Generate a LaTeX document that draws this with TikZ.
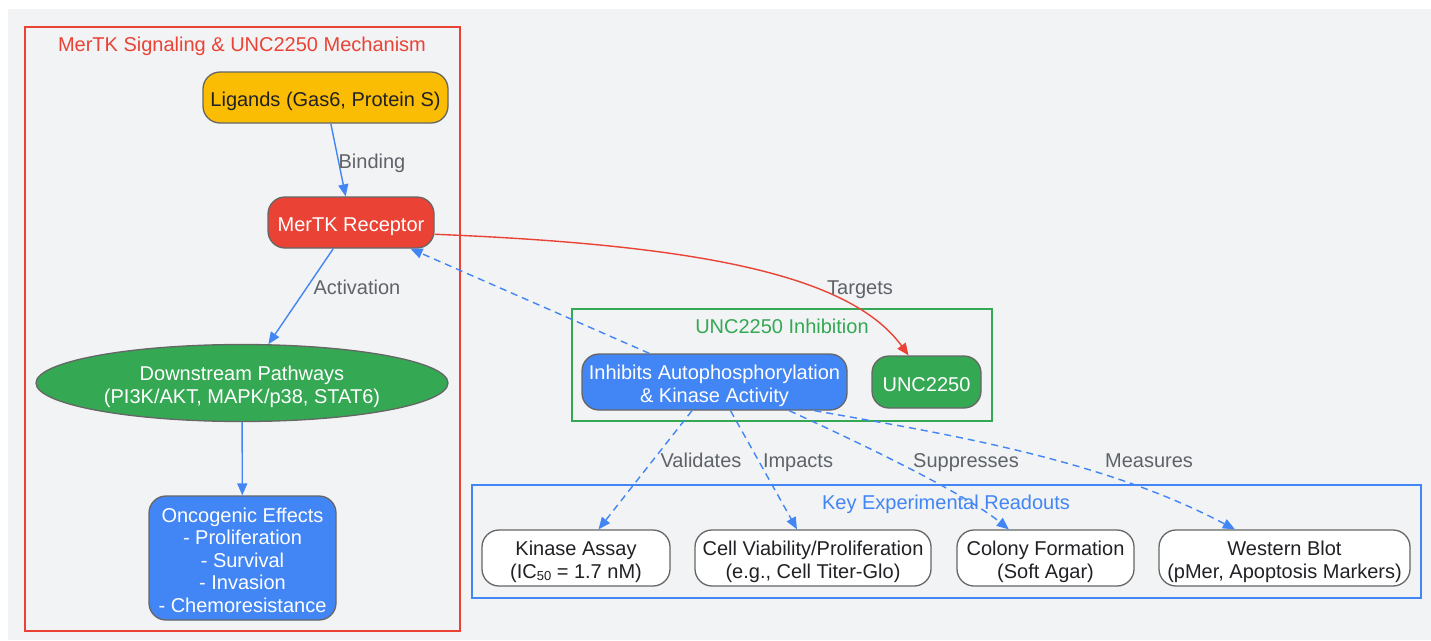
\documentclass[tikz,border=0pt]{standalone}
\usepackage{fontspec}
\setmainfont{Liberation Sans}
\usetikzlibrary{shapes.geometric,arrows.meta}
\definecolor{bgc}{HTML}{F1F3F5}
\definecolor{gblue}{HTML}{4285F4}
\definecolor{gred}{HTML}{EA4335}
\definecolor{ggreen}{HTML}{34A853}
\definecolor{gyellow}{HTML}{FBBC04}
\definecolor{bordergrey}{HTML}{666666}
\definecolor{lblgrey}{HTML}{5F6368}
\definecolor{textdark}{HTML}{202124}
\newcommand\tsup{\rule{0pt}{23pt}}
\newcommand\bsdn{\rule[-5pt]{0pt}{5pt}}
\tikzset{
  basefont/.style={font=\fontsize{20}{22.5}\selectfont},
  box/.style={basefont, draw=bordergrey, line width=1.3pt, rounded corners=17pt, align=center, inner sep=0pt},
  whitebox/.style={box, fill=white, text=textdark, minimum height=56pt},
  lbl/.style={basefont, text=lblgrey, inner sep=0pt, anchor=base},
  ctitle/.style={basefont, inner sep=0pt, anchor=base},
  cluster/.style={line width=1.3pt},
  conn/.style={line width=1.4pt, gblue, -{Triangle[length=12pt,width=10pt]}},
  dconn/.style={conn, dash pattern=on 7pt off 5pt},
}
\begin{document}
\begin{tikzpicture}[x=1pt,y=-1pt]
\useasboundingbox (0,0) rectangle (1431,640);
\fill[bgc] (8,9) rectangle (1431,640);

% clusters
\draw[cluster, gred] (25,27) rectangle (460,631);
\node[ctitle, text=gred] (t1) at (242,51.5) {MerTK Signaling \& UNC2250 Mechanism};
\draw[cluster, ggreen] (572,309) rectangle (992,421);
\node[ctitle, text=ggreen] (t2) at (782,333.5) {UNC2250 Inhibition};
\draw[cluster, gblue] (472,485) rectangle (1421,598);
\node[ctitle, text=gblue] (t3) at (946,509.5) {Key Experimental Readouts};

% nodes
\node[box, fill=gyellow, text=textdark, minimum width=245pt, minimum height=51pt] (lig) at (325.5,97.5) {\tsup Ligands (Gas6, Protein S)\bsdn};
\node[box, fill=gred, text=white, minimum width=166pt, minimum height=51pt] (mer) at (351,222.5) {\tsup MerTK Receptor\bsdn};
\node[basefont, ellipse, draw=bordergrey, line width=1.3pt, fill=ggreen, text=white, align=center, inner sep=0pt, minimum width=412pt, minimum height=77pt] (down) at (242,383) {\tsup Downstream Pathways\\(PI3K/AKT, MAPK/p38, STAT6)\bsdn};
\node[box, fill=gblue, text=white, minimum width=187pt, minimum height=124pt] (onc) at (242.5,558) {\tsup Oncogenic Effects\\- Proliferation\\- Survival\\- Invasion\\- Chemoresistance\bsdn};
\node[box, fill=gblue, text=white, minimum width=265pt, minimum height=56pt] (inh) at (714.5,382) {\tsup Inhibits Autophosphorylation\\\& Kinase Activity\bsdn};
\node[box, fill=ggreen, text=white, minimum width=109pt, minimum height=52pt] (unc) at (926.5,382) {\tsup UNC2250\bsdn};
\node[whitebox, minimum width=188pt] (kin) at (576,558) {\tsup Kinase Assay\\(IC\raisebox{-2pt}{\fontsize{13}{13}\selectfont 50} = 1.7 nM)\bsdn};
\node[whitebox, minimum width=236pt] (cell) at (813,558) {\tsup Cell Viability/Proliferation\\(e.g., Cell Titer-Glo)\bsdn};
\node[whitebox, minimum width=177pt] (col) at (1045.5,558) {\tsup Colony Formation\\(Soft Agar)\bsdn};
\node[whitebox, minimum width=251pt] (wb) at (1284.5,558) {\tsup Western Blot\\(pMer, Apoptosis Markers)\bsdn};

% connectors
\draw[conn] (lig) -- (mer);
\draw[conn] (mer) -- (down);
\draw[conn] (down) -- (onc);
\draw[line width=1.4pt, gred, -{Triangle[length=12pt,width=10pt]}] (mer.-8) .. controls (700,245) and (850,275) .. (unc.124);
\draw[dconn] (inh) -- (mer);
\draw[dconn] (inh) -- (kin);
\draw[dconn] (inh) -- (cell);
\draw[dconn] (inh.-21) .. controls (875,450) and (965,494) .. (col.142);
\draw[dconn] (inh.-16) .. controls (940,433) and (1100,458) .. (wb.150);

% labels
\node[lbl] (l1) at (372,168.5) {Binding};
\node[lbl] (l2) at (357,294.5) {Activation};
\node[lbl] (l3) at (860,294.5) {Targets};
\node[lbl] (l4) at (701,467.5) {Validates};
\node[lbl] (l5) at (798,467.5) {Impacts};
\node[lbl] (l6) at (966,467.5) {Suppresses};
\node[lbl] (l7) at (1149,467.5) {Measures};
\end{tikzpicture}
\end{document}
